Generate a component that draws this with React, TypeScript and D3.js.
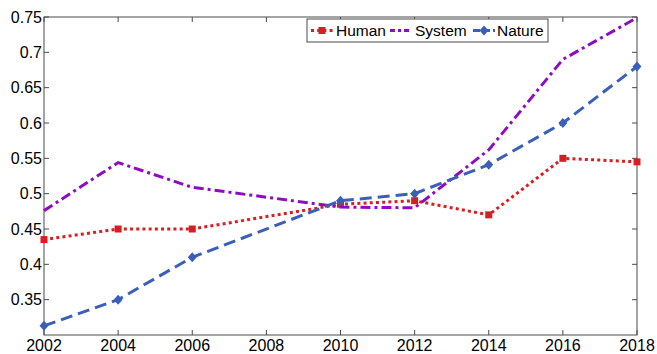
import React, { useEffect, useRef } from "react";
import * as d3 from "d3";

const years = [2002, 2004, 2006, 2010, 2012, 2014, 2016, 2018];
const human = [0.435, 0.45, 0.45, 0.485, 0.49, 0.47, 0.55, 0.545];
const system = [0.476, 0.544, 0.509, 0.481, 0.48, 0.562, 0.69, 0.749];
const nature = [0.313, 0.35, 0.41, 0.49, 0.5, 0.541, 0.6, 0.68];
const xTicks = [2002, 2004, 2006, 2008, 2010, 2012, 2014, 2016, 2018];
const yTicks = [0.35, 0.4, 0.45, 0.5, 0.55, 0.6, 0.65, 0.7, 0.75];

const width = 657;
const height = 354;
const margin = { top: 17, right: 20, bottom: 19, left: 44 };

const series = [
  { name: "Human", values: human, color: "#d81e22", dash: "3,3.2", marker: "square" },
  { name: "System", values: system, color: "#8e0bc4", dash: "10,4,3,4", marker: "none" },
  { name: "Nature", values: nature, color: "#3b5fb9", dash: "12,6", marker: "diamond" },
];

export default function App() {
  const ref = useRef<SVGSVGElement>(null);

  useEffect(() => {
    const svg = d3.select(ref.current);
    svg.selectAll("*").remove();

    const x = d3
      .scaleLinear()
      .domain([2002, 2018])
      .range([margin.left, width - margin.right]);
    const y = d3
      .scaleLinear()
      .domain([0.3, 0.75])
      .range([height - margin.bottom, margin.top]);

    const font = "'Liberation Sans', Arial, sans-serif";
    const axisColor = "#4a4a4a";
    const x0 = x.range()[0];
    const x1 = x.range()[1];
    const y0 = y.range()[0];
    const y1 = y.range()[1];

    svg
      .append("rect")
      .attr("x", x0)
      .attr("y", y1)
      .attr("width", x1 - x0)
      .attr("height", y0 - y1)
      .attr("fill", "white")
      .attr("stroke", axisColor)
      .attr("stroke-width", 1);

    // ticks point inward on all four sides
    const tickLen = 5;
    xTicks.forEach((t) => {
      svg.append("line").attr("x1", x(t)).attr("x2", x(t)).attr("y1", y0).attr("y2", y0 - tickLen).attr("stroke", axisColor);
      svg.append("line").attr("x1", x(t)).attr("x2", x(t)).attr("y1", y1).attr("y2", y1 + tickLen).attr("stroke", axisColor);
      svg
        .append("text")
        .attr("x", x(t))
        .attr("y", y0 + 16)
        .attr("text-anchor", "middle")
        .style("font-family", font)
        .style("font-size", "16px")
        .text(t);
    });
    yTicks.forEach((t) => {
      svg.append("line").attr("x1", x0).attr("x2", x0 + tickLen).attr("y1", y(t)).attr("y2", y(t)).attr("stroke", axisColor);
      svg.append("line").attr("x1", x1).attr("x2", x1 - tickLen).attr("y1", y(t)).attr("y2", y(t)).attr("stroke", axisColor);
      svg
        .append("text")
        .attr("x", x0 - 2)
        .attr("y", y(t))
        .attr("dy", "0.36em")
        .attr("text-anchor", "end")
        .style("font-family", font)
        .style("font-size", "16px")
        .text(d3.format("")(t));
    });

    const line = d3
      .line<number>()
      .x((d, i) => x(years[i]))
      .y((d) => y(d));

    const drawMarker = (g: any, kind: string, cx: number, cy: number, color: string) => {
      if (kind === "square") {
        g.append("rect")
          .attr("x", cx - 3.5)
          .attr("y", cy - 3.5)
          .attr("width", 7)
          .attr("height", 7)
          .attr("fill", color);
      } else if (kind === "diamond") {
        g.append("path")
          .attr("d", `M${cx},${cy - 5}L${cx + 4.5},${cy}L${cx},${cy + 5}L${cx - 4.5},${cy}Z`)
          .attr("fill", color);
      }
    };

    series.forEach((s) => {
      svg
        .append("path")
        .datum(s.values)
        .attr("d", line)
        .attr("fill", "none")
        .attr("stroke", s.color)
        .attr("stroke-width", 3)
        .attr("stroke-dasharray", s.dash);
      const g = svg.append("g");
      s.values.forEach((v, i) => drawMarker(g, s.marker, x(years[i]), y(v), s.color));
    });

    // legend
    const legend = svg.append("g");
    legend
      .append("rect")
      .attr("x", 307)
      .attr("y", 19)
      .attr("width", 241)
      .attr("height", 23)
      .attr("fill", "white")
      .attr("stroke", axisColor);
    const legendItems = [
      { s: series[0], lx: 311, tx: 336 },
      { s: series[1], lx: 390, tx: 415 },
      { s: series[2], lx: 473, tx: 497 },
    ];
    legendItems.forEach(({ s, lx, tx }) => {
      legend
        .append("line")
        .attr("x1", lx)
        .attr("x2", lx + 22)
        .attr("y1", 30.5)
        .attr("y2", 30.5)
        .attr("stroke", s.color)
        .attr("stroke-width", 3)
        .attr("stroke-dasharray", s.name === "System" ? "5,3,3,3" : s.name === "Nature" ? "7,3" : s.dash);
      drawMarker(legend, s.marker, lx + 11, 30.5, s.color);
      legend
        .append("text")
        .attr("x", tx)
        .attr("y", 30.5)
        .attr("dy", "0.36em")
        .style("font-family", font)
        .style("font-size", "15.5px")
        .text(s.name);
    });
  }, []);

  return (
    <svg
      ref={ref}
      width={width}
      height={height}
      style={{ position: "absolute", left: 0, top: 0, background: "white" }}
    />
  );
}
